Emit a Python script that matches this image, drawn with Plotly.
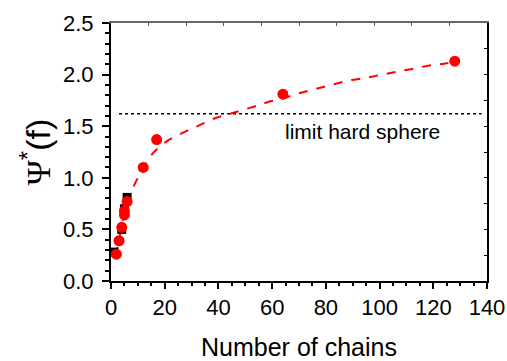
import plotly.graph_objects as go

# measured points (red circles)
red_x = [2, 3, 4, 5, 5, 6, 12, 17, 64, 128]
red_y = [0.26, 0.39, 0.52, 0.64, 0.68, 0.77, 1.10, 1.37, 1.81, 2.13]

# black squares
blk_x = [1, 4, 5, 6]
blk_y = [0.28, 0.50, 0.70, 0.81]

# dashed fit curve
fit_x = [2, 3, 4, 5, 6, 8, 10, 12, 15, 20, 27, 33, 39, 45, 52, 58, 64, 70, 76, 82, 88, 95, 101, 107, 113, 119, 125, 128]
fit_y = [0.24, 0.40, 0.53, 0.65, 0.75, 0.89, 1.00, 1.09, 1.22, 1.34, 1.44, 1.51, 1.58, 1.625, 1.68, 1.73, 1.77, 1.82, 1.86, 1.90, 1.94, 1.97, 2.00, 2.03, 2.06, 2.09, 2.11, 2.13]

# hard sphere limit
limit_x = [3, 138]
limit_y = [1.62, 1.62]

font = "Liberation Sans, Arial, sans-serif"

fig = go.Figure()
fig.add_trace(go.Scatter(x=limit_x, y=limit_y, mode="lines",
                         line=dict(color="black", width=1.5, dash="dot"), showlegend=False))
fig.add_trace(go.Scatter(x=fit_x, y=fit_y, mode="lines", line_shape="spline",
                         line=dict(color="red", width=2, dash="dash"), showlegend=False))
fig.add_trace(go.Scatter(x=blk_x, y=blk_y, mode="markers",
                         marker=dict(symbol="square", color="black", size=9), showlegend=False))
fig.add_trace(go.Scatter(x=red_x, y=red_y, mode="markers",
                         marker=dict(symbol="circle", color="red", size=11), showlegend=False))
# dummy trace for frame axes
fig.add_trace(go.Scatter(x=[0.5], y=[0.5], xaxis="x2", yaxis="y2", mode="markers",
                         marker=dict(opacity=0), showlegend=False, hoverinfo="skip"))

fig.add_annotation(x=93.8, y=1.45, text="limit hard sphere", showarrow=False,
                   font=dict(family=font, size=21, color="black"))

fig.update_layout(
    width=507, height=361,
    margin=dict(l=111, r=20, t=23, b=80),
    paper_bgcolor="white", plot_bgcolor="white",
    font=dict(family=font, color="black"),
    xaxis=dict(range=[0, 140], tickmode="linear", tick0=0, dtick=20, automargin=False,
               ticks="outside", ticklen=6, tickwidth=1.5, tickcolor="black",
               minor=dict(dtick=5, ticks="outside", ticklen=3, tickwidth=1.5, tickcolor="black"),
               showline=True, linecolor="black", linewidth=2, showgrid=False, zeroline=False,
               tickfont=dict(size=22),
               title=dict(text="Number of chains", font=dict(size=25), standoff=20)),
    yaxis=dict(range=[0, 2.5], tickmode="linear", tick0=0, dtick=0.5, tickformat=".1f",
               automargin=False, ticklabelstandoff=4,
               ticks="outside", ticklen=7, tickwidth=1.5, tickcolor="black",
               minor=dict(dtick=0.1, ticks="outside", ticklen=4, tickwidth=1.5, tickcolor="black"),
               showline=True, linecolor="black", linewidth=2, showgrid=False, zeroline=False,
               tickfont=dict(size=22),
               title=dict(text="<span style=\"font-family:'Liberation Serif', 'Times New Roman', serif\">Ψ</span><sup>*</sup>(f)",
                          font=dict(size=34), standoff=2)),
    xaxis2=dict(overlaying="x", side="top", range=[0, 1], tickmode="linear", tick0=0, dtick=0.1,
                ticks="inside", ticklen=3, tickcolor="#555555", tickwidth=1, automargin=False,
                showline=True, linecolor="#666666", linewidth=1.5, showticklabels=False,
                showgrid=False, zeroline=False),
    yaxis2=dict(overlaying="y", side="right", range=[0, 1], tickmode="linear", tick0=0, dtick=0.1,
                ticks="inside", ticklen=3, tickcolor="black", tickwidth=1, automargin=False,
                showline=True, linecolor="black", linewidth=2, showticklabels=False,
                showgrid=False, zeroline=False),
)

fig.write_html("out.html")
